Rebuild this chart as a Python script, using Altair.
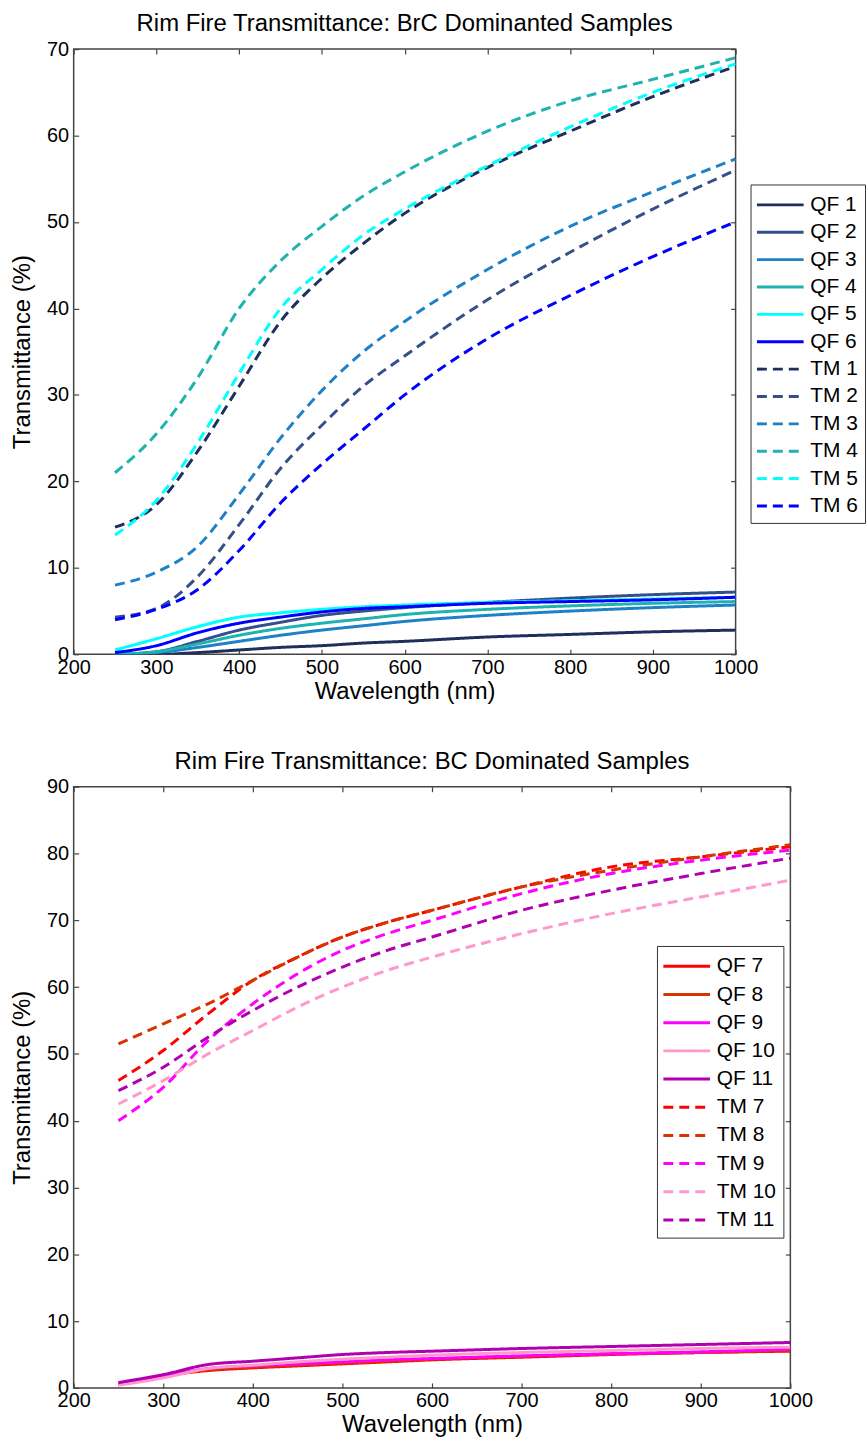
import altair as alt
import pandas as pd

# ---------------- data ----------------
wl = [250, 300, 350, 400, 450, 500, 550, 600, 700, 800, 900, 1000]

# BrC dominated samples
qf1 = [0.0, 0.0, 0.2, 0.5, 0.8, 1.0, 1.3, 1.5, 2.0, 2.3, 2.6, 2.8]
qf2 = [0.0, 0.3, 1.5, 2.8, 3.7, 4.5, 5.0, 5.4, 6.0, 6.5, 6.9, 7.2]
qf3 = [0.0, 0.2, 0.8, 1.5, 2.2, 2.8, 3.3, 3.8, 4.5, 5.0, 5.4, 5.7]
qf4 = [0.0, 0.3, 1.2, 2.2, 3.0, 3.6, 4.1, 4.6, 5.2, 5.6, 5.9, 6.1]
qf5 = [0.5, 1.8, 3.2, 4.3, 4.8, 5.2, 5.5, 5.7, 6.0, 6.2, 6.4, 6.6]
qf6 = [0.2, 1.0, 2.5, 3.6, 4.3, 4.9, 5.3, 5.5, 5.9, 6.1, 6.3, 6.6]
tm1 = [14.7, 17.3, 23.5, 31.0, 38.5, 43.5, 47.5, 51.0, 56.3, 60.5, 64.5, 68.0]
tm2 = [4.3, 5.3, 9.0, 15.0, 21.5, 26.5, 31.0, 34.5, 41.0, 46.5, 51.5, 56.0]
tm3 = [8.0, 9.5, 12.5, 18.5, 25.0, 30.5, 35.0, 38.5, 44.5, 49.5, 53.5, 57.3]
tm4 = [21.0, 25.5, 32.0, 40.0, 45.5, 49.5, 53.0, 55.8, 60.5, 64.0, 66.5, 69.0]
tm5 = [13.8, 17.8, 24.5, 32.5, 40.0, 44.5, 48.5, 51.5, 56.5, 61.0, 65.0, 68.3]
tm6 = [4.0, 5.2, 7.5, 12.0, 17.5, 22.0, 26.0, 30.0, 36.5, 41.5, 46.0, 50.0]

brc_names = ["QF 1", "QF 2", "QF 3", "QF 4", "QF 5", "QF 6",
             "TM 1", "TM 2", "TM 3", "TM 4", "TM 5", "TM 6"]
brc_series = [qf1, qf2, qf3, qf4, qf5, qf6, tm1, tm2, tm3, tm4, tm5, tm6]
brc_colors = ["#1F2F5C", "#34508A", "#1E80C6", "#1FB3AE", "#00FFFF", "#0000FF",
              "#1F2F5C", "#34508A", "#1E80C6", "#1FB3AE", "#00FFFF", "#0000FF"]

# BC dominated samples
qf7 = [0.5, 1.8, 2.6, 3.0, 3.3, 3.6, 3.9, 4.2, 4.6, 5.0, 5.3, 5.5]
qf8 = [0.6, 1.8, 2.7, 3.1, 3.4, 3.7, 4.0, 4.3, 4.7, 5.1, 5.3, 5.6]
qf9 = [0.5, 1.7, 2.9, 3.3, 3.6, 3.9, 4.2, 4.4, 4.8, 5.1, 5.4, 5.8]
qf10 = [0.4, 1.5, 2.9, 3.4, 3.9, 4.3, 4.6, 4.9, 5.3, 5.6, 5.9, 6.1]
qf11 = [0.8, 2.0, 3.5, 4.0, 4.5, 5.0, 5.3, 5.5, 5.9, 6.2, 6.5, 6.8]
tm7 = [46.0, 50.5, 56.0, 61.0, 64.5, 67.5, 69.7, 71.5, 75.0, 78.0, 79.5, 81.0]
tm8 = [51.5, 54.5, 57.5, 61.0, 64.5, 67.5, 69.7, 71.5, 75.0, 77.5, 79.5, 81.3]
tm9 = [40.0, 45.0, 52.0, 57.5, 62.0, 65.5, 68.0, 70.0, 74.0, 77.0, 79.0, 80.5]
tm10 = [42.5, 46.0, 50.0, 53.5, 57.0, 60.0, 62.5, 64.5, 68.0, 71.0, 73.5, 76.0]
tm11 = [44.5, 48.0, 52.5, 56.5, 60.0, 63.0, 65.5, 67.5, 71.5, 74.5, 77.0, 79.3]

bc_names = ["QF 7", "QF 8", "QF 9", "QF 10", "QF 11",
            "TM 7", "TM 8", "TM 9", "TM 10", "TM 11"]
bc_series = [qf7, qf8, qf9, qf10, qf11, tm7, tm8, tm9, tm10, tm11]
bc_colors = ["#FF0000", "#D83400", "#FF00FF", "#FF99CC", "#B000B0",
             "#FF0000", "#D83400", "#FF00FF", "#FF99CC", "#B000B0"]

FONT = "Liberation Sans"
DASH = [10, 6]


def long_df(names, series):
    rows = []
    for n, s in zip(names, series):
        for x, y in zip(wl, s):
            rows.append({"series": n, "wl": x, "val": y})
    return pd.DataFrame(rows)


def panel(names, series, colors, ymax, width, height, title, lx, ly, rowpad):
    df = long_df(names, series)
    dashes = [[1, 0] if n.startswith("QF") else DASH for n in names]
    leg = alt.Legend(
        title=None, orient="none", legendX=lx, legendY=ly,
        symbolType="M-1.2,0H2.8", symbolSize=550, symbolStrokeWidth=3,
        labelFont=FONT, labelFontSize=21, labelColor="black",
        labelLimit=200, labelOffset=26,
        strokeColor="#333333", fillColor="white", padding=7, rowPadding=rowpad,
    )
    xs = alt.Scale(domain=[200, 1000], nice=False, zero=False)
    ys = alt.Scale(domain=[0, ymax], nice=False)
    xvals = list(range(200, 1001, 100))
    yvals = list(range(0, ymax + 1, 10))
    lines = alt.Chart(df).mark_line(strokeWidth=3, interpolate="monotone", clip=True).encode(
        x=alt.X("wl:Q", scale=xs, axis=alt.Axis(
            orient="bottom", values=xvals, offset=-5, tickSize=5, domain=False, format="d",
            labelPadding=3, title="Wavelength (nm)", titlePadding=2)),
        y=alt.Y("val:Q", scale=ys, axis=alt.Axis(
            orient="left", values=yvals, offset=-5, tickSize=5, domain=False, format="d",
            labelPadding=5, title="Transmittance (%)", titlePadding=12)),
        color=alt.Color("series:N", scale=alt.Scale(domain=names, range=colors), legend=leg),
        strokeDash=alt.StrokeDash("series:N", scale=alt.Scale(domain=names, range=dashes), legend=leg),
    )
    ghost = alt.Chart(df).mark_line(opacity=0).encode(
        x=alt.X("wl:Q", scale=xs, axis=alt.Axis(
            orient="top", values=xvals, offset=-5, tickSize=5, domain=False,
            labels=False, title=None)),
        y=alt.Y("val:Q", scale=ys, axis=alt.Axis(
            orient="right", values=yvals, offset=-5, tickSize=5, domain=False,
            labels=False, title=None)),
        detail="series:N",
    )
    return alt.layer(lines, ghost).resolve_axis(x="independent", y="independent").properties(
        width=width, height=height,
        title=alt.TitleParams(title, fontSize=24, font=FONT, fontWeight="normal",
                              color="black", offset=3, anchor="middle"),
    )


top = panel(brc_names, brc_series, brc_colors, 70, 665, 608,
            "Rim Fire Transmittance: BrC Dominanted Samples", 680, 136, 3.5)
bottom = panel(bc_names, bc_series, bc_colors, 90, 720, 604,
               "Rim Fire Transmittance: BC Dominated Samples", 586, 160, 4.3)

chart = alt.vconcat(top, bottom, spacing=45).resolve_scale(
    color="independent", strokeDash="independent"
).resolve_legend(
    color="independent", strokeDash="independent"
).properties(
    padding={"left": 10, "top": 8, "right": 0, "bottom": 0},
    background="white",
).configure_view(stroke="#444444", strokeWidth=1.5).configure_axis(
    labelFont=FONT, labelFontSize=20, labelColor="black", labelFlush=False,
    labelOverlap=False, tickColor="#444444", tickWidth=1.2,
    titleFont=FONT, titleFontSize=24, titleFontWeight="normal", titleColor="black",
    grid=False,
)

chart.save("out.html", embed_options={"renderer": "svg", "actions": False})
